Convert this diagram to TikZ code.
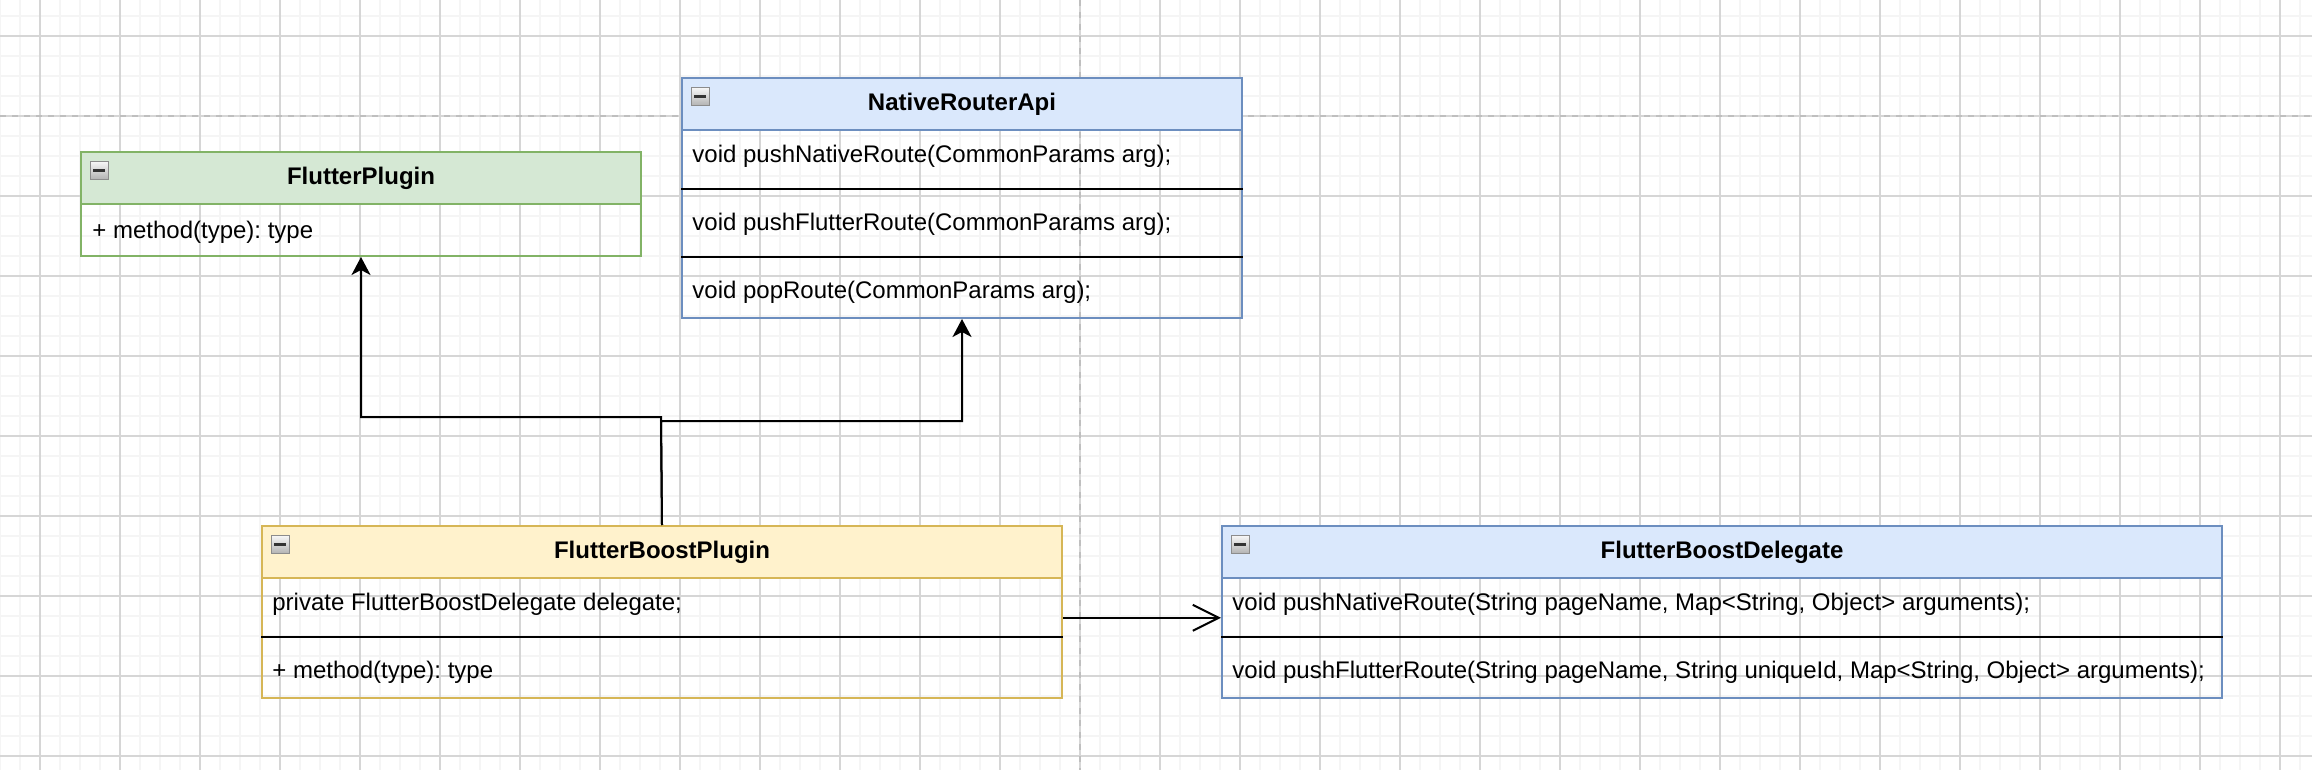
\documentclass[tikz,border=0pt]{standalone}
\usepackage{fontspec}
\setmainfont{Liberation Sans}
\usepackage{tikz}
\usepackage{xcolor}
\usetikzlibrary{positioning, arrows.meta}

\definecolor{greenfill}{HTML}{D5E8D4}
\definecolor{greenline}{HTML}{82B366}
\definecolor{bluefill}{HTML}{DAE8FC}
\definecolor{blueline}{HTML}{6C8EBF}
\definecolor{yellowfill}{HTML}{FFF2CC}
\definecolor{yellowline}{HTML}{D6B656}

\frenchspacing

\begin{document}
\begin{tikzpicture}[x=1pt, y=-1pt,
        font=\fontsize{12}{14}\selectfont,
        minorgrid/.style={black!4, line width=0.6pt},
        majorgrid/.style={black!16, line width=0.6pt},
        pagebreak/.style={black!25, line width=0.8pt, dash pattern=on 3pt off 3pt},
        classbox/.style={rectangle, draw, line width=1pt, inner sep=0pt, anchor=north west},
        headbox/.style={rectangle, draw, line width=1pt, inner sep=0pt, anchor=north west,
            minimum height=26pt, font=\fontsize{12}{14}\selectfont\bfseries},
        foldbox/.style={rectangle, draw=black!45, top color=black!3, bottom color=black!30,
            minimum size=9pt, inner sep=0pt, anchor=north west,
            path picture={\draw[line width=1.3pt, black!80]
                ([xshift=-3pt]path picture bounding box.center) -- ([xshift=3pt]path picture bounding box.center);}},
        member/.style={anchor=west, inner sep=0pt},
        sepline/.style={line width=1.4pt},
        conn/.style={line width=1pt, -{Stealth[length=9pt, width=9.5pt, inset=2.5pt]}},
        assoc/.style={line width=1pt, -{Straight Barb[length=13pt, width=13pt]}}]

        % background grid and page breaks
        \useasboundingbox (0,0) rectangle (1156,385);
        \fill[white] (0,0) rectangle (1156,385);
        \foreach \gx in {0,10,...,1150} \draw[minorgrid] (\gx,0) -- (\gx,385);
        \foreach \gy in {8,18,...,378} \draw[minorgrid] (0,\gy) -- (1156,\gy);
        \foreach \gx in {20,60,...,1140} \draw[majorgrid] (\gx,0) -- (\gx,385);
        \foreach \gy in {18,58,...,378} \draw[majorgrid] (0,\gy) -- (1156,\gy);
        \draw[pagebreak] (540,0) -- (540,385);
        \draw[pagebreak] (0,58) -- (1156,58);

        % FlutterPlugin
        \node[classbox, draw=greenline, minimum width=280pt, minimum height=52pt] (fp) at (40,75.5) {};
        \node[headbox, draw=greenline, fill=greenfill, minimum width=280pt] (fpHead) at (fp.north west) {FlutterPlugin};
        \node[foldbox] (fpFold) at ([shift={(5pt,-5pt)}]fp.north west) {};
        \node[member] (fpMethod) at ([shift={(6pt,-13.8pt)}]fpHead.south west) {+ method(type): type};

        % NativeRouterApi
        \node[classbox, draw=blueline, minimum width=280pt, minimum height=120pt] (nra) at (340.5,38.5) {};
        \node[headbox, draw=blueline, fill=bluefill, minimum width=280pt] (nraHead) at (nra.north west) {NativeRouterApi};
        \node[foldbox] (nraFold) at ([shift={(5pt,-5pt)}]nra.north west) {};
        \node[member] (nraPushNative) at ([shift={(5.5pt,-39.8pt)}]nra.north west) {void pushNativeRoute(CommonParams arg);};
        \node[member] (nraPushFlutter) at ([shift={(5.5pt,-73.8pt)}]nra.north west) {void pushFlutterRoute(CommonParams arg);};
        \node[member] (nraPop) at ([shift={(5.5pt,-107.8pt)}]nra.north west) {void popRoute(CommonParams arg);};
        \draw[sepline] ([yshift=-56pt]nra.north west) -- ([yshift=-56pt]nra.north east);
        \draw[sepline] ([yshift=-90pt]nra.north west) -- ([yshift=-90pt]nra.north east);

        % FlutterBoostPlugin
        \node[classbox, draw=yellowline, minimum width=400pt, minimum height=86pt] (fbp) at (130.5,262.5) {};
        \node[headbox, draw=yellowline, fill=yellowfill, minimum width=400pt] (fbpHead) at (fbp.north west) {FlutterBoostPlugin};
        \node[foldbox] (fbpFold) at ([shift={(5pt,-5pt)}]fbp.north west) {};
        \node[member] (fbpDelegate) at ([shift={(5.5pt,-39.8pt)}]fbp.north west) {private FlutterBoostDelegate delegate;};
        \node[member] (fbpMethod) at ([shift={(5.5pt,-73.8pt)}]fbp.north west) {+ method(type): type};
        \draw[sepline] ([yshift=-56pt]fbp.north west) -- ([yshift=-56pt]fbp.north east);

        % FlutterBoostDelegate
        \node[classbox, draw=blueline, minimum width=500pt, minimum height=86pt] (fbd) at (610.5,262.5) {};
        \node[headbox, draw=blueline, fill=bluefill, minimum width=500pt] (fbdHead) at (fbd.north west) {FlutterBoostDelegate};
        \node[foldbox] (fbdFold) at ([shift={(5pt,-5pt)}]fbd.north west) {};
        \node[member] (fbdPushNative) at ([shift={(5.5pt,-39.8pt)}]fbd.north west) {void pushNativeRoute(String pageName, Map<String, Object> arguments);};
        \node[member] (fbdPushFlutter) at ([shift={(5.5pt,-73.8pt)}]fbd.north west) {void pushFlutterRoute(String pageName, String uniqueId, Map<String, Object> arguments);};
        \draw[sepline] ([yshift=-56pt]fbd.north west) -- ([yshift=-56pt]fbd.north east);

        % connectors
        \coordinate (splitL) at (330.5,208.5);
        \coordinate (splitR) at (330.5,210.5);
        \draw[conn] (fbp.north) -- (splitL) -| (fp.south);
        \draw[conn] (fbp.north) -- (splitR) -| (nra.south);
        \draw[assoc] ([yshift=-2.9pt]fbp.east) -- ([yshift=-2.9pt]fbd.west);
    \end{tikzpicture}
\end{document}
